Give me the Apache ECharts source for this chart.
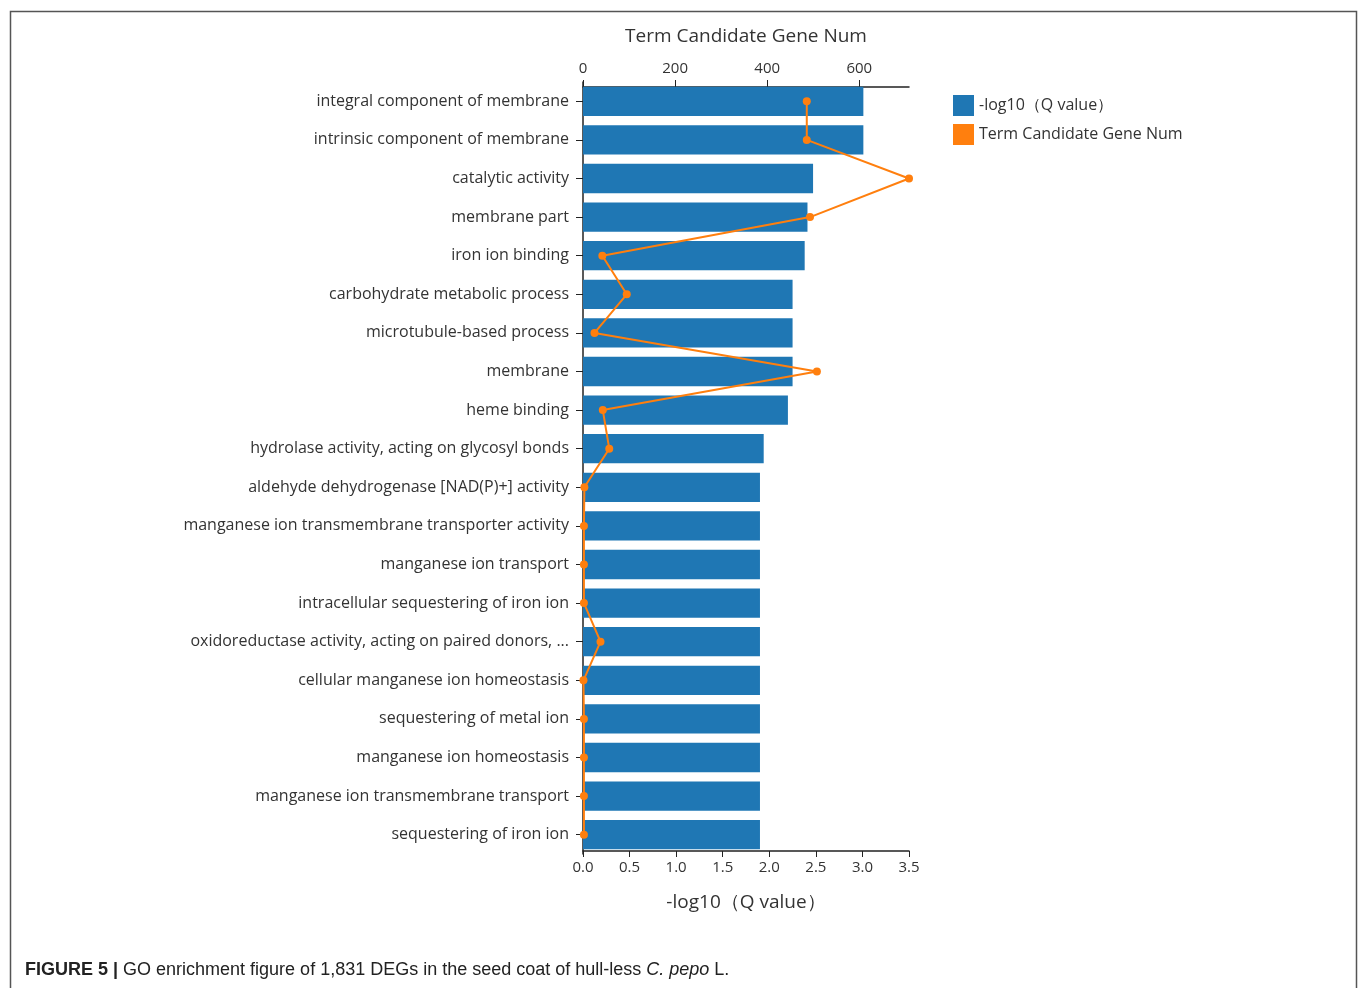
<!DOCTYPE html>
<html>
<head>
<meta charset="utf-8">
<script src="https://cdn.jsdelivr.net/npm/echarts@6/dist/echarts.min.js"></script>
<style>
html,body{margin:0;padding:0;background:#fff;}
#chart{width:1358px;height:988px;}
</style>
</head>
<body>
<div id="chart"></div>
<script>
const categories = [
  "integral component of membrane",
  "intrinsic component of membrane",
  "catalytic activity",
  "membrane part",
  "iron ion binding",
  "carbohydrate metabolic process",
  "microtubule-based process",
  "membrane",
  "heme binding",
  "hydrolase activity, acting on glycosyl bonds",
  "aldehyde dehydrogenase [NAD(P)+] activity",
  "manganese ion transmembrane transporter activity",
  "manganese ion transport",
  "intracellular sequestering of iron ion",
  "oxidoreductase activity, acting on paired donors, ...",
  "cellular manganese ion homeostasis",
  "sequestering of metal ion",
  "manganese ion homeostasis",
  "manganese ion transmembrane transport",
  "sequestering of iron ion"
];
const qValues = [3.01, 3.01, 2.47, 2.41, 2.38, 2.25, 2.25, 2.25, 2.20, 1.94,
                 1.90, 1.90, 1.90, 1.90, 1.90, 1.90, 1.90, 1.90, 1.90, 1.90];
const geneNums = [486, 486, 708, 493, 42, 95, 25, 508, 43, 57,
                  3, 2, 2, 2, 38, 1, 2, 2, 2, 2];
const bottomTicks = { min: 0, max: 3.5, interval: 0.5 };
const topTicks = { min: 0, interval: 200 };

const chart = echarts.init(document.getElementById('chart'));
const font = "'Open Sans', 'Noto Sans', sans-serif";
chart.setOption({
  animation: false,
  backgroundColor: '#fff',
  grid: { left: 583, top: 82, width: 326, height: 772, containLabel: false },
  legend: {
    orient: 'vertical', left: 948, top: 90, itemWidth: 21, itemHeight: 21, itemGap: 8,
    textStyle: { fontFamily: font, fontSize: 16, color: '#333' },
    data: [
      { name: '-log10（Q value）', icon: 'rect' },
      { name: 'Term Candidate Gene Num', icon: 'rect' }
    ]
  },
  xAxis: [
    {
      type: 'value', position: 'bottom', offset: -3,
      min: bottomTicks.min, max: bottomTicks.max, interval: bottomTicks.interval,
      name: '-log10（Q value）', nameLocation: 'middle', nameGap: 42,
      nameTextStyle: { fontFamily: font, fontSize: 19, color: '#333' },
      axisLine: { show: true, lineStyle: { color: '#222', width: 1.5 } },
      axisTick: { show: true, length: 6, lineStyle: { color: '#222' } },
      axisLabel: { fontFamily: font, fontSize: 15, color: '#333', margin: 9,
                   formatter: v => v.toFixed(1) },
      splitLine: { show: false }
    },
    {
      type: 'value', position: 'top', offset: -5,
      min: topTicks.min, max: 'dataMax', interval: topTicks.interval,
      name: 'Term Candidate Gene Num', nameLocation: 'middle', nameGap: 41,
      nameTextStyle: { fontFamily: font, fontSize: 19, color: '#333' },
      axisLine: { show: true, lineStyle: { color: '#222', width: 1.5 } },
      axisTick: { show: true, length: 7, lineStyle: { color: '#222' } },
      axisLabel: { fontFamily: font, fontSize: 15, color: '#333', margin: 11,
                   showMaxLabel: false },
      splitLine: { show: false }
    }
  ],
  yAxis: {
    type: 'category', data: categories, inverse: true,
    axisLine: { show: true, lineStyle: { color: '#222', width: 1.5 } },
    axisTick: { show: true, length: 7, alignWithLabel: true, lineStyle: { color: '#222' } },
    axisLabel: { fontFamily: font, fontSize: 16, color: '#333', margin: 14 },
    splitLine: { show: false }
  },
  series: [
    {
      name: '-log10（Q value）', type: 'bar', xAxisIndex: 0, data: qValues,
      barCategoryGap: '24%',
      itemStyle: { color: '#1f77b4' }
    },
    {
      name: 'Term Candidate Gene Num', type: 'line', xAxisIndex: 1, data: geneNums,
      symbol: 'circle', symbolSize: 8, z: 5,
      lineStyle: { color: '#ff7f0e', width: 2 },
      itemStyle: { color: '#ff7f0e' }
    }
  ],
  color: ['#1f77b4', '#ff7f0e'],
  graphic: [
    {
      type: 'rect', left: 8, top: 9, silent: true,
      shape: { width: 1346, height: 1000 },
      style: { fill: 'none', stroke: '#555', lineWidth: 1.5 }
    },
    {
      type: 'text', left: 25, top: 961,
      style: {
        text: '{b|FIGURE 5 |} GO enrichment figure of 1,831 DEGs in the seed coat of hull-less {i|C. pepo} L.',
        fontFamily: "'Liberation Sans', Arial, sans-serif", fontSize: 18, fill: '#222',
        rich: {
          b: { fontWeight: 'bold', fontFamily: "'Liberation Sans', Arial, sans-serif", fontSize: 18, fill: '#222' },
          i: { fontStyle: 'italic', fontFamily: "'Liberation Sans', Arial, sans-serif", fontSize: 18, fill: '#222' }
        }
      }
    }
  ]
});
</script>
</body>
</html>
